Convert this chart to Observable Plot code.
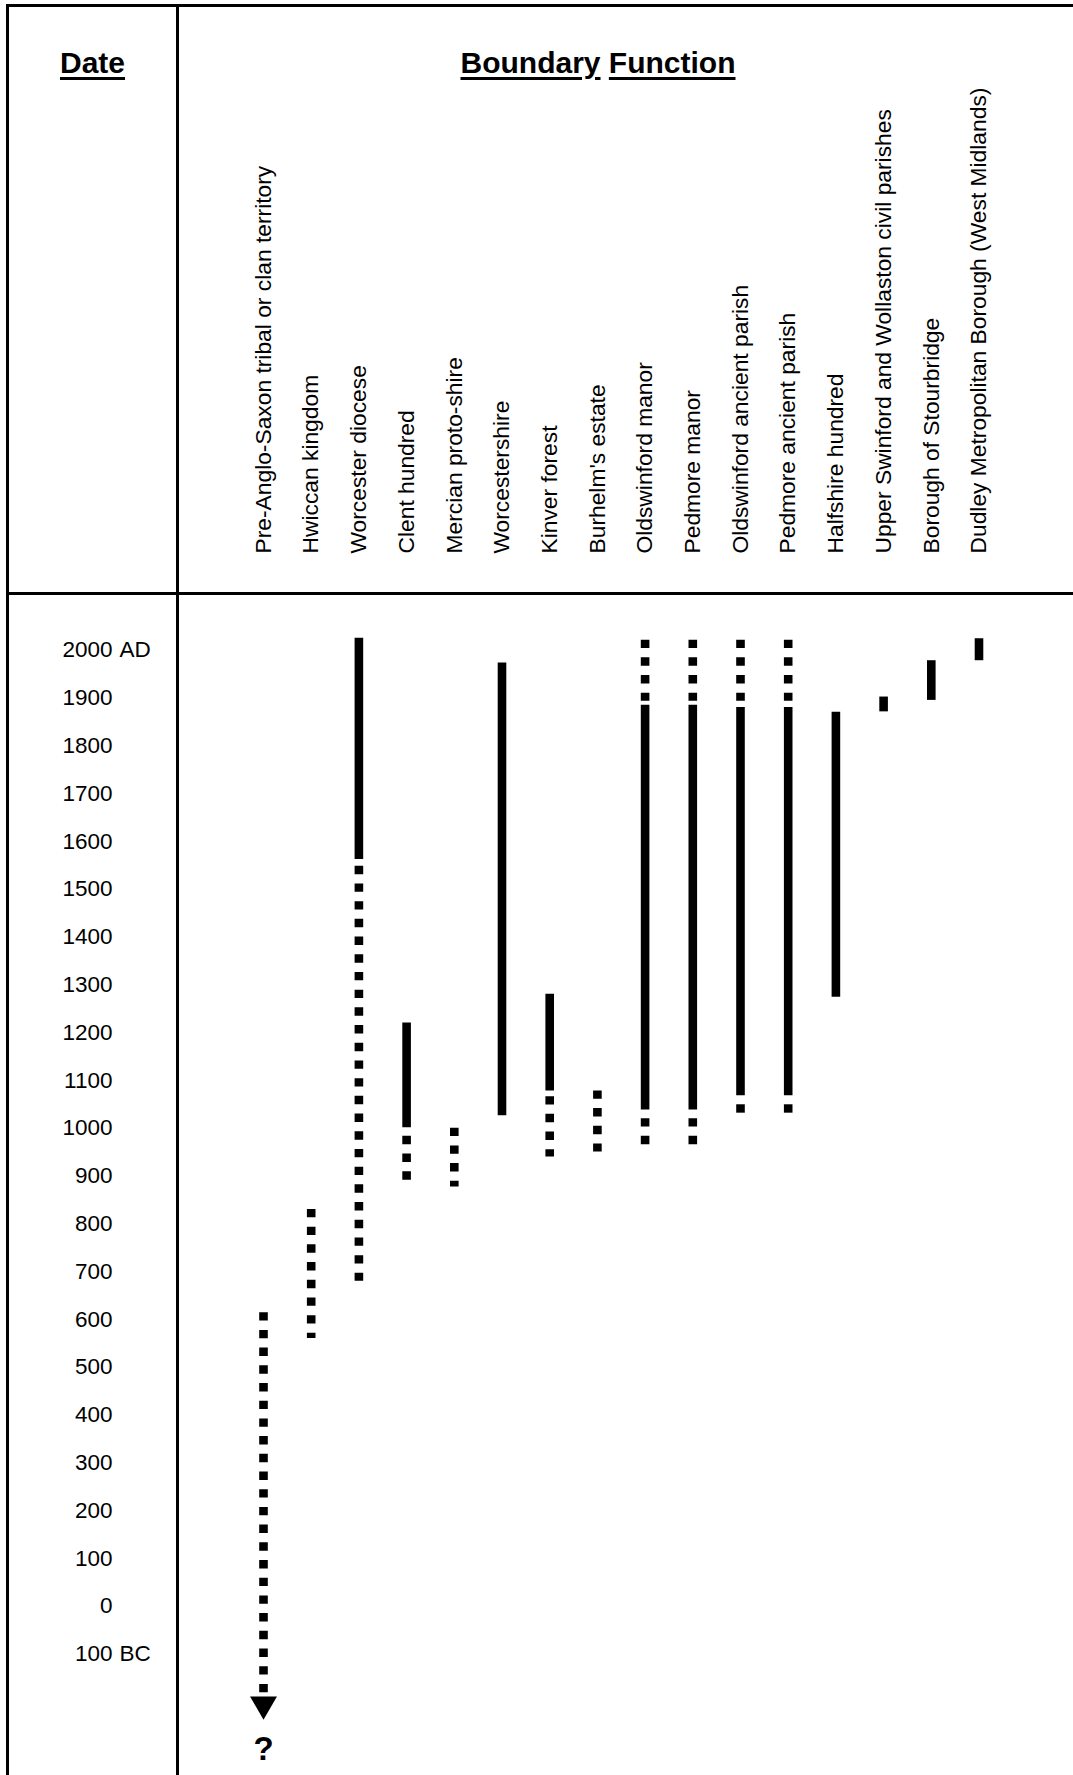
<!DOCTYPE html>
<html>
<head>
<meta charset="utf-8">
<script src="https://cdn.jsdelivr.net/npm/d3@7"></script>
<script src="https://cdn.jsdelivr.net/npm/@observablehq/plot@0.6"></script>
<style>
  html, body { margin: 0; padding: 0; background: #ffffff; overflow: hidden; }
  #page { position: relative; width: 1073px; height: 1775px; background: #ffffff; overflow: hidden;
          font-family: "Liberation Sans", Arial, Helvetica, sans-serif; color: #000; }
  #chart { position: absolute; left: 0; top: 0; }
  .line { position: absolute; background: #000; }
  .title { position: absolute; top: 47.6px; font-size: 30px; line-height: 30px; font-weight: bold;
           text-align: center; white-space: nowrap; }
  .title u { text-decoration-thickness: 2.5px; text-underline-offset: 4px; }
</style>
</head>
<body>
<div id="page">
  <div id="chart"></div>
  <div class="line" style="left:6px; top:4.3px; width:1067px; height:2.5px;"></div>
  <div class="line" style="left:6px; top:4.3px; width:2.6px; height:1771px;"></div>
  <div class="line" style="left:176px; top:4.3px; width:2.6px; height:1771px;"></div>
  <div class="line" style="left:6px; top:592.3px; width:1067px; height:2.6px;"></div>
  <div class="title" style="left:7px; width:171px;"><u>Date</u></div>
  <div class="title" style="left:178px; width:840px;"><u>Boundary</u> <u>Function</u></div>
</div>
<script>
// Boundary functions (columns, left to right)
const categories = [
  "Pre-Anglo-Saxon tribal or clan territory",
  "Hwiccan kingdom",
  "Worcester diocese",
  "Clent hundred",
  "Mercian proto-shire",
  "Worcestershire",
  "Kinver forest",
  "Burhelm's estate",
  "Oldswinford manor",
  "Pedmore manor",
  "Oldswinford ancient parish",
  "Pedmore ancient parish",
  "Halfshire hundred",
  "Upper Swinford and Wollaston civil parishes",
  "Borough of Stourbridge",
  "Dudley Metropolitan Borough (West Midlands)"
];

// Date axis ticks (years; negative = BC)
const dateTicks = [2000, 1900, 1800, 1700, 1600, 1500, 1400, 1300, 1200, 1100, 1000, 900, 800, 700, 600, 500, 400, 300, 200, 100, 0, -100];
const eraYears = [2000, -100];
const eraLabels = ["AD", "BC"];

// Solid (certain) boundary periods
const solidCat  = ["Worcester diocese", "Clent hundred", "Worcestershire", "Kinver forest",
                   "Oldswinford manor", "Pedmore manor", "Oldswinford ancient parish", "Pedmore ancient parish",
                   "Halfshire hundred", "Upper Swinford and Wollaston civil parishes", "Borough of Stourbridge",
                   "Dudley Metropolitan Borough (West Midlands)"];
const solidFrom = [2025, 1220, 1973, 1280, 1885, 1885, 1880, 1880, 1870, 1902, 1978, 2024];
const solidTo   = [1562, 1001, 1026, 1078, 1038, 1038, 1068, 1068, 1274, 1871, 1895, 1978];

// Dotted (uncertain) boundary periods
const dottedCat  = ["Pre-Anglo-Saxon tribal or clan territory", "Hwiccan kingdom", "Worcester diocese",
                    "Clent hundred", "Mercian proto-shire", "Kinver forest", "Burhelm's estate",
                    "Oldswinford manor", "Oldswinford manor", "Pedmore manor", "Pedmore manor",
                    "Oldswinford ancient parish", "Oldswinford ancient parish",
                    "Pedmore ancient parish", "Pedmore ancient parish"];
const dottedFrom = [614, 830, 1548, 983, 1000, 1066, 1078, 2021, 1020, 2021, 1020, 2021, 1049, 2021, 1049];
const dottedTo   = [-200, 560, 680, 880, 877, 940, 950, 1893, 965, 1893, 965, 1893, 1030, 1893, 1030];

// Open-ended (unknown origin) marker
const unknownCat = ["Pre-Anglo-Saxon tribal or clan territory"];
const arrowYear = [-205];
const questionYear = [-300];

const solid = solidCat.map((c, i) => ({cat: c, from: solidFrom[i], to: solidTo[i]}));
const dotted = dottedCat.map((c, i) => ({cat: c, from: dottedFrom[i], to: dottedTo[i]}));
const arrows = unknownCat.map((c, i) => ({cat: c, year: arrowYear[i]}));
const questions = unknownCat.map((c, i) => ({cat: c, year: questionYear[i]}));
const eras = eraYears.map((y, i) => ({year: y, label: eraLabels[i]}));

const chart = Plot.plot({
  width: 1073,
  height: 1775,
  marginTop: 593,
  marginLeft: 263,
  marginRight: 94.5,
  marginBottom: 0,
  style: {background: "transparent", fontFamily: "'Liberation Sans', Arial, Helvetica, sans-serif", color: "#000"},
  x: {type: "point", domain: categories, padding: 0, round: false, axis: null},
  y: {domain: [2000, 0], range: [649.7, 1605.7], axis: null},
  marks: [
    // category labels (rotated, in the header row)
    Plot.text(categories, {x: d => d, text: d => d, frameAnchor: "top", rotate: -90,
      textAnchor: "start", lineAnchor: "middle", dy: -40, fontSize: 22.8, fill: "#000"}),
    // date labels
    Plot.text(dateTicks, {y: d => d, text: d => String(Math.abs(d)), frameAnchor: "left",
      textAnchor: "end", lineAnchor: "middle", dx: -151, fontSize: 22.5, fill: "#000"}),
    Plot.text(eras, {y: "year", text: "label", frameAnchor: "left",
      textAnchor: "start", lineAnchor: "middle", dx: -144, fontSize: 22.5, fill: "#000"}),
    // uncertain periods
    Plot.ruleX(dotted, {x: "cat", y1: "from", y2: "to", stroke: "#000", strokeWidth: 8.6,
      strokeDasharray: "8.4,9.3"}),
    // certain periods
    Plot.ruleX(solid, {x: "cat", y1: "from", y2: "to", stroke: "#000", strokeWidth: 8.6}),
    // arrow head
    Plot.dot(arrows, {x: "cat", y: "year", symbol: "triangle", r: 10, fill: "#000", stroke: "none", rotate: 180}),
    // question mark
    Plot.text(questions, {x: "cat", y: "year", text: () => "?", fontSize: 33, fontWeight: "bold", fill: "#000"})
  ]
});
document.getElementById("chart").appendChild(chart);
</script>
</body>
</html>
